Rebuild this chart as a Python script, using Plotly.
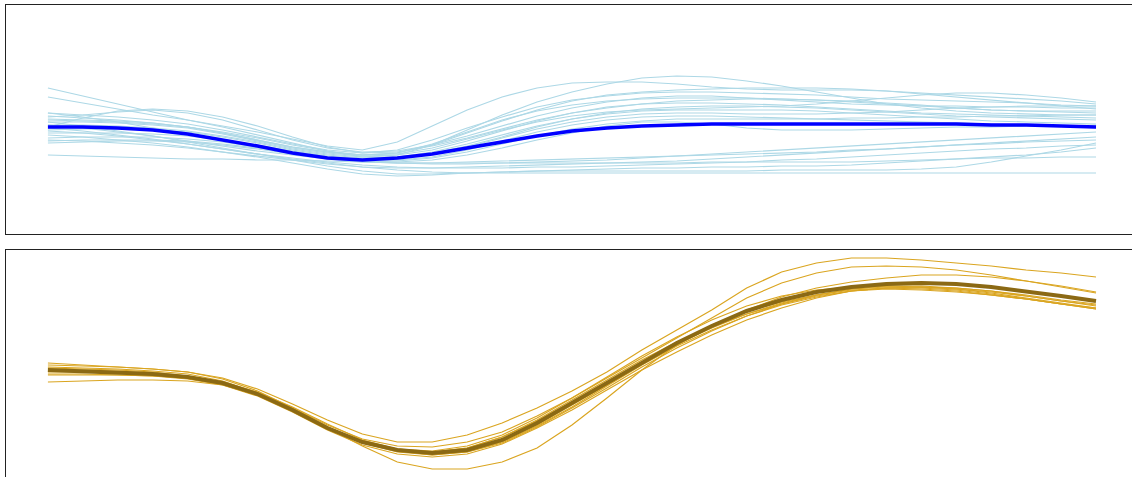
import plotly.graph_objects as go

# x positions (sample index)
x_idx = list(range(31))

# ---------- top panel: individual series (light blue) ----------
top_series = [
    [152,144,136,128,120,113,105,97,89,83,85,95,110,125,138,148,156,162,164,163,159,154,148,142,136,132,129,127,126,125,125],
    [143,137,131,125,120,114,108,101,94,90,98,114,130,143,152,157,158,158,156,153,151,150,150,150,149,147,145,143,141,139,136],
    [127,125,123,120,116,110,103,96,90,87,90,100,112,123,133,140,144,147,148,148,147,146,145,143,141,140,139,138,137,135,134],
    [123,125,128,130,127,120,110,100,92,88,89,95,104,114,124,132,138,142,144,144,142,140,138,136,135,134,134,133,133,132,132],
    [113,122,129,131,129,123,114,103,93,87,88,94,102,111,120,127,132,136,139,140,141,141,140,139,137,135,132,130,129,129,129],
    [121,120,119,117,113,107,100,93,88,85,86,92,101,110,118,124,128,130,131,132,133,134,136,139,142,145,147,147,145,142,138],
    [118,118,117,115,112,106,99,92,87,84,85,90,99,109,119,127,133,136,137,137,136,135,133,131,129,127,126,125,124,123,122],
    [115,115,114,112,109,104,98,91,86,83,83,87,94,103,113,121,127,131,133,134,134,133,132,130,128,126,124,123,122,121,120],
    [110,111,111,110,108,103,97,90,85,82,83,88,96,105,114,121,126,129,130,130,130,130,129,127,125,123,121,119,118,117,116],
    [107,107,107,106,104,100,95,89,84,81,82,86,93,102,111,118,123,126,127,127,126,126,126,127,128,130,132,133,134,134,134],
    [102,103,103,103,101,98,93,88,83,80,80,83,90,99,108,115,120,123,124,124,123,122,121,120,119,118,117,116,115,114,112],
    [99,100,100,100,99,96,92,87,82,79,79,82,88,96,104,111,116,119,121,121,121,121,121,122,122,123,123,124,124,125,125],
    [97,98,99,99,98,95,91,86,82,79,78,80,85,92,100,107,114,118,118,116,112,110,110,110,111,112,113,113,114,114,115],
    [120,119,118,116,113,108,102,95,89,85,87,95,107,119,130,139,145,148,150,151,152,152,152,151,149,146,143,140,137,134,131],
    [124,122,120,117,113,107,100,93,88,85,87,96,108,120,129,135,139,141,142,142,142,141,140,138,136,134,132,130,129,128,127],
    [85,84,83,82,81,81,80,80,79,78,77,77,77,77,77,77,77,77,77,78,78,78,78,78,79,80,81,82,82,83,83],
    [112,109,105,101,96,91,86,81,77,73,70,68,67,67,67,67,67,67,67,67,67,67,67,67,67,67,67,67,67,67,67],
    [105,103,100,97,93,88,83,77,71,66,64,65,67,68,69,69,69,69,69,69,69,70,70,70,70,71,73,78,84,90,97],
    [100,99,97,95,92,88,84,80,76,73,72,72,73,74,75,76,77,78,79,81,83,85,87,89,91,93,95,97,99,101,103],
    [109,107,104,100,96,91,86,82,78,75,73,72,72,72,73,73,74,75,76,77,78,80,81,83,85,87,89,91,92,94,95],
    [115,112,108,104,99,94,89,85,81,78,77,77,78,79,80,81,82,83,84,85,86,87,88,90,91,93,95,96,98,99,100],
    [127,123,118,112,106,100,94,88,83,79,77,76,76,77,78,79,80,82,84,86,88,90,92,94,96,98,100,102,104,106,108],
    [118,114,109,104,98,92,86,80,74,69,66,66,67,68,69,70,71,72,72,73,73,74,74,75,77,79,81,83,85,88,92],
]
top_mean = [113,113,112,110,106,100,94,87,82,80,82,86,92,98,104,109,112,114,115,116,116,116,116,116,116,116,116,115,115,114,113]

# ---------- bottom panel: individual series (goldenrod) ----------
bottom_series = [
    [115,114,113,111,108,102,91,76,60,46,38,38,45,57,72,89,108,130,150,170,192,208,217,222,222,220,217,214,210,207,203],
    [112,111,110,108,104,98,87,72,55,41,34,33,38,48,64,82,102,122,142,162,182,197,207,213,214,213,210,205,199,193,187],
    [108,108,107,105,102,96,85,69,51,37,29,26,29,39,55,75,95,116,135,153,170,183,192,198,202,205,205,203,199,194,188],
    [117,115,113,111,108,101,89,72,53,38,29,25,28,37,53,72,92,113,132,149,164,176,185,191,194,194,192,189,184,179,174],
    [106,106,105,104,101,95,84,68,50,35,26,23,26,36,52,70,90,110,128,145,160,172,182,189,192,193,191,187,182,177,172],
    [111,110,109,107,104,98,88,73,56,40,31,28,32,43,60,80,100,120,138,153,166,176,184,189,191,190,188,185,181,176,171],
    [109,109,108,106,103,97,87,71,53,39,31,29,34,45,62,82,103,124,143,160,174,184,190,193,194,193,192,189,185,180,176],
    [105,105,105,104,102,96,86,70,53,38,30,28,32,43,59,78,98,118,136,152,166,177,185,191,193,193,191,188,184,179,175],
    [98,99,100,100,99,95,85,70,52,37,28,25,28,38,54,73,94,115,134,150,164,175,183,189,192,192,190,186,181,176,172],
    [113,112,111,109,106,99,87,70,52,34,18,11,11,18,32,55,82,110,135,155,169,178,185,190,192,191,189,185,181,176,171],
]
bottom_mean = [110,109,108,106,103,97,86,70,52,38,30,27,30,40,57,77,97,118,137,154,169,180,188,193,196,197,196,193,189,184,179]

fig = go.Figure()

for s in top_series:
    fig.add_trace(go.Scatter(x=x_idx, y=s, mode="lines", xaxis="x", yaxis="y",
                             line=dict(color="#ADD8E6", width=1.2), showlegend=False, hoverinfo="skip"))
fig.add_trace(go.Scatter(x=x_idx, y=top_mean, mode="lines", xaxis="x", yaxis="y",
                         line=dict(color="#0000FF", width=3.5), showlegend=False, hoverinfo="skip"))

for s in bottom_series:
    fig.add_trace(go.Scatter(x=x_idx, y=s, mode="lines", xaxis="x2", yaxis="y2",
                             line=dict(color="#DAA520", width=1.2), showlegend=False, hoverinfo="skip"))
fig.add_trace(go.Scatter(x=x_idx, y=bottom_mean, mode="lines", xaxis="x2", yaxis="y2",
                         line=dict(color="#8B6914", width=4), showlegend=False, hoverinfo="skip"))

H = 477
axis_common = dict(showgrid=False, zeroline=False, showticklabels=False, ticks="",
                   linecolor="#222", linewidth=1)

fig.update_layout(
    width=1132, height=H,
    margin=dict(l=6, r=0, t=0, b=0),
    paper_bgcolor="white", plot_bgcolor="white",
    xaxis=dict(domain=[0, 1], anchor="y", range=[-1.2, 31.03], showline=True, mirror=True, **axis_common),
    yaxis=dict(domain=[1 - 234 / H, 1 - 5 / H], anchor="x", range=[6, 235], showline=True, **axis_common),
    xaxis2=dict(domain=[0, 1], anchor="y2", range=[-1.2, 31.03], side="top", showline=True, **axis_common),
    yaxis2=dict(domain=[0, 1 - 250 / H], anchor="x2", range=[3, 230], showline=True, **axis_common),
)

fig.write_html("out.html", config={"displayModeBar": False},
               post_script="document.body.style.margin='0px';document.body.style.overflow='hidden';")
